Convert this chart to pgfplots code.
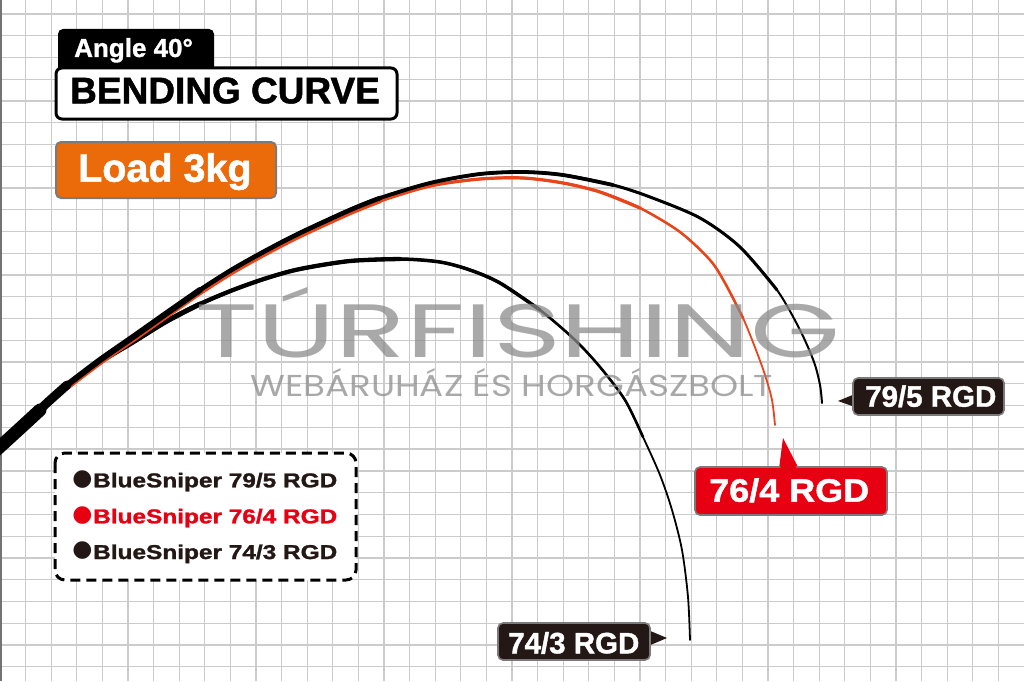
\documentclass[border=0pt]{standalone}
\usepackage{pgfplots}
\pgfplotsset{compat=1.18}
\usepackage{fontspec}
\setmainfont{Liberation Sans}
\newfontfamily\heavy{Liberation Sans Bold}[FakeBold=1.3]
\newfontfamily\wmfont{Poppins}
\newfontfamily\bulletfont{DejaVu Sans}
\definecolor{gridc}{HTML}{CBCBCB}
\definecolor{rodred}{HTML}{E8461A}
\definecolor{lblred}{HTML}{E60012}
\definecolor{lblblk}{HTML}{231815}
\definecolor{orng}{HTML}{EB6A0A}
\definecolor{bordgray}{HTML}{7A7A7A}
\newcommand{\fs}[1]{\fontsize{#1bp}{#1bp}\selectfont}
\pgfplotsset{rod/.style={no markers, smooth, tension=0.5, line cap=round, line join=round}}
\begin{document}
\begin{tikzpicture}
\begin{axis}[
  scale only axis, width=1024bp, height=681bp,
  xmin=0, xmax=1024, ymin=0, ymax=681, y dir=reverse,
  axis line style={draw=none},
  xtick={25.6,51.2,...,1000}, ytick={13.9,35.66,...,681},
  xticklabels={}, yticklabels={},
  major tick length=0pt, tick style={draw=none},
  grid=major, major grid style={gridc, line width=1.3bp},
  clip=false,
]
% left edge
\draw[black!55, line width=1.6bp] (axis cs:0.8,0) -- (axis cs:0.8,681);

% ---- 74/3 RGD ----
\addplot[rod, black, line width=1.8bp] coordinates {(67,386) (100,362) (133,342) (167,321) (200,304) (233,290) (267,278) (300,269) (350,261) (400,259) (440,262) (470,270) (500,283) (540,310) (575,340) (600,367) (625,400) (643,437) (660,475) (672,510) (682,550) (688,597) (690,640)};
\addplot[rod, black, line width=2.6bp] coordinates {(67,386) (100,362) (133,342) (167,321) (200,304) (233,290) (267,278) (300,269) (350,261) (400,259) (440,262) (470,270) (500,283) (540,310) (575,340) (600,367) (625,400) (643,437)};
\addplot[rod, black, line width=3.5bp] coordinates {(67,386) (100,362) (133,342) (167,321) (200,304) (233,290) (267,278) (300,269) (350,261) (400,259) (440,262) (470,270) (500,283) (540,310)};
\addplot[rod, black, line width=4.3bp] coordinates {(67,386) (100,362) (133,342) (167,321) (200,304) (233,290) (267,278) (300,269) (350,261) (400,259)};
\addplot[rod, black, line width=5bp] coordinates {(67,386) (100,362) (133,342) (167,321) (200,304)};

% ---- 76/4 RGD ----
\addplot[rod, rodred, line width=1.8bp] coordinates {(67,388) (100,363) (133,340) (167,316) (200,293) (233,272) (267,253) (300,236) (350,213) (380,201) (430,186) (480,179) (523,178) (563,183) (600,192) (640,208) (680,232) (710,260) (725,283) (743,318) (756,350) (765,375) (772,400) (775,425)};
\addplot[rod, rodred, line width=2.5bp] coordinates {(67,388) (100,363) (133,340) (167,316) (200,293) (233,272) (267,253) (300,236) (350,213) (380,201) (430,186) (480,179) (523,178) (563,183) (600,192) (640,208) (680,232) (710,260) (725,283) (743,318)};
\addplot[rod, rodred, line width=3.2bp] coordinates {(67,388) (100,363) (133,340) (167,316) (200,293) (233,272) (267,253) (300,236) (350,213) (380,201) (430,186) (480,179) (523,178) (563,183) (600,192) (640,208)};
\addplot[rod, rodred, line width=4.5bp] coordinates {(67,388) (100,363) (133,340) (167,316) (200,293) (233,272) (267,253) (300,236) (350,213) (380,201)};

% ---- 79/5 RGD ----
\addplot[rod, black, line width=2bp] coordinates {(67,385) (100,360) (133,337) (167,313) (200,290) (233,269) (267,250) (300,233) (350,210) (380,198) (430,183) (480,174) (523,172) (563,175) (613,185) (650,197) (700,218) (740,247) (777,290) (800,330) (814,362) (820,385) (822,403)};
\addplot[rod, black, line width=3bp] coordinates {(67,385) (100,360) (133,337) (167,313) (200,290) (233,269) (267,250) (300,233) (350,210) (380,198) (430,183) (480,174) (523,172) (563,175) (613,185) (650,197) (700,218) (740,247) (777,290)};
\addplot[rod, black, line width=3.8bp] coordinates {(67,385) (100,360) (133,337) (167,313) (200,290) (233,269) (267,250) (300,233) (350,210) (380,198) (430,183) (480,174) (523,172) (563,175) (613,185)};
\addplot[rod, black, line width=4.6bp] coordinates {(67,385) (100,360) (133,337) (167,313) (200,290) (233,269) (267,250) (300,233) (350,210) (380,198)};
\addplot[rod, black, line width=6bp] coordinates {(67,385) (100,360) (133,337) (167,313) (200,290)};
\addplot[rod, black, line width=9bp] coordinates {(30,419) (48,402) (67,385)};
\addplot[rod, black, line width=13bp] coordinates {(-8,454) (15,433) (40,410)};

% ---- watermark ----
\node[anchor=base west, inner sep=0pt, text=black!45, opacity=0.75] at (axis cs:195,357)
  {\resizebox{645bp}{70bp}{\wmfont TÚRFISHING}};
\node[anchor=base west, inner sep=0pt, text=black!45, opacity=0.75] at (axis cs:250,396)
  {\resizebox{523bp}{28bp}{\wmfont WEBÁRUHÁZ ÉS HORGÁSZBOLT}};

% ---- title boxes ----
\fill[black, rounded corners=5bp] (axis cs:58,29) rectangle (axis cs:214,72);
\node[anchor=base west, inner sep=0pt, text=white, font=\heavy\fs{26}] at (axis cs:74,57) {Angle 40°};
\draw[black, fill=white, line width=3bp, rounded corners=6bp] (axis cs:56,68) rectangle (axis cs:397,119);
\node[anchor=base west, inner sep=0pt, text=black, font=\heavy\fs{37}] at (axis cs:70,103.3) {BENDING CURVE};
\draw[bordgray, fill=orng, line width=2bp, rounded corners=5bp] (axis cs:56,142) rectangle (axis cs:276,198);
\node[anchor=base west, inner sep=0pt, text=white, font=\heavy\fs{39.5}] at (axis cs:78,181.7) {Load 3kg};

% ---- legend ----
\draw[black, fill=white, line width=3bp, dash pattern=on 10bp off 6bp, rounded corners=10bp] (axis cs:55,453) rectangle (axis cs:356,580);
\node[inner sep=0pt, text=lblblk] at (axis cs:82.5,480) {\bulletfont\fs{23}●};
\node[inner sep=0pt, text=lblred] at (axis cs:82.5,516) {\bulletfont\fs{23}●};
\node[inner sep=0pt, text=lblblk] at (axis cs:82.5,551) {\bulletfont\fs{23}●};
\node[anchor=base west, inner sep=0pt, text=lblblk, font=\heavy\fs{24.4}] at (axis cs:93,487.3) {\scalebox{1}[0.82]{BlueSniper 79/5 RGD}};
\node[anchor=base west, inner sep=0pt, text=lblred, font=\heavy\fs{24.4}] at (axis cs:93,523.3) {\scalebox{1}[0.82]{BlueSniper 76/4 RGD}};
\node[anchor=base west, inner sep=0pt, text=lblblk, font=\heavy\fs{24.4}] at (axis cs:93,559) {\scalebox{1}[0.82]{BlueSniper 74/3 RGD}};

% ---- rod labels ----
\fill[lblblk] (axis cs:855,394) -- (axis cs:838,401) -- (axis cs:855,407) -- cycle;
\draw[bordgray, fill=lblblk, line width=1.6bp, rounded corners=5bp] (axis cs:853,378) rectangle (axis cs:1004,415);
\node[anchor=base west, inner sep=0pt, text=white, font=\heavy\fs{29.5}] at (axis cs:865,406.7) {79/5 RGD};

\fill[lblred] (axis cs:779,469) -- (axis cs:783,438) -- (axis cs:799,469) -- cycle;
\draw[bordgray, fill=lblred, line width=1.6bp, rounded corners=5bp] (axis cs:695,467) rectangle (axis cs:887,515);
\fill[lblred] (axis cs:780,470) -- (axis cs:783.5,441) -- (axis cs:797.5,470) -- cycle;
\node[anchor=base west, inner sep=0pt, text=white, font=\heavy\fs{36}] at (axis cs:709,501.7) {\scalebox{1}[0.9]{76/4 RGD}};

\fill[lblblk] (axis cs:648,630) -- (axis cs:667,638) -- (axis cs:648,646) -- cycle;
\draw[bordgray, fill=lblblk, line width=1.6bp, rounded corners=5bp] (axis cs:498,623) rectangle (axis cs:650,660);
\node[anchor=base west, inner sep=0pt, text=white, font=\heavy\fs{29.5}] at (axis cs:508,653.3) {74/3 RGD};
\end{axis}
\pgfresetboundingbox
\useasboundingbox (current axis.south west) rectangle (current axis.north east);
\end{tikzpicture}
\end{document}
